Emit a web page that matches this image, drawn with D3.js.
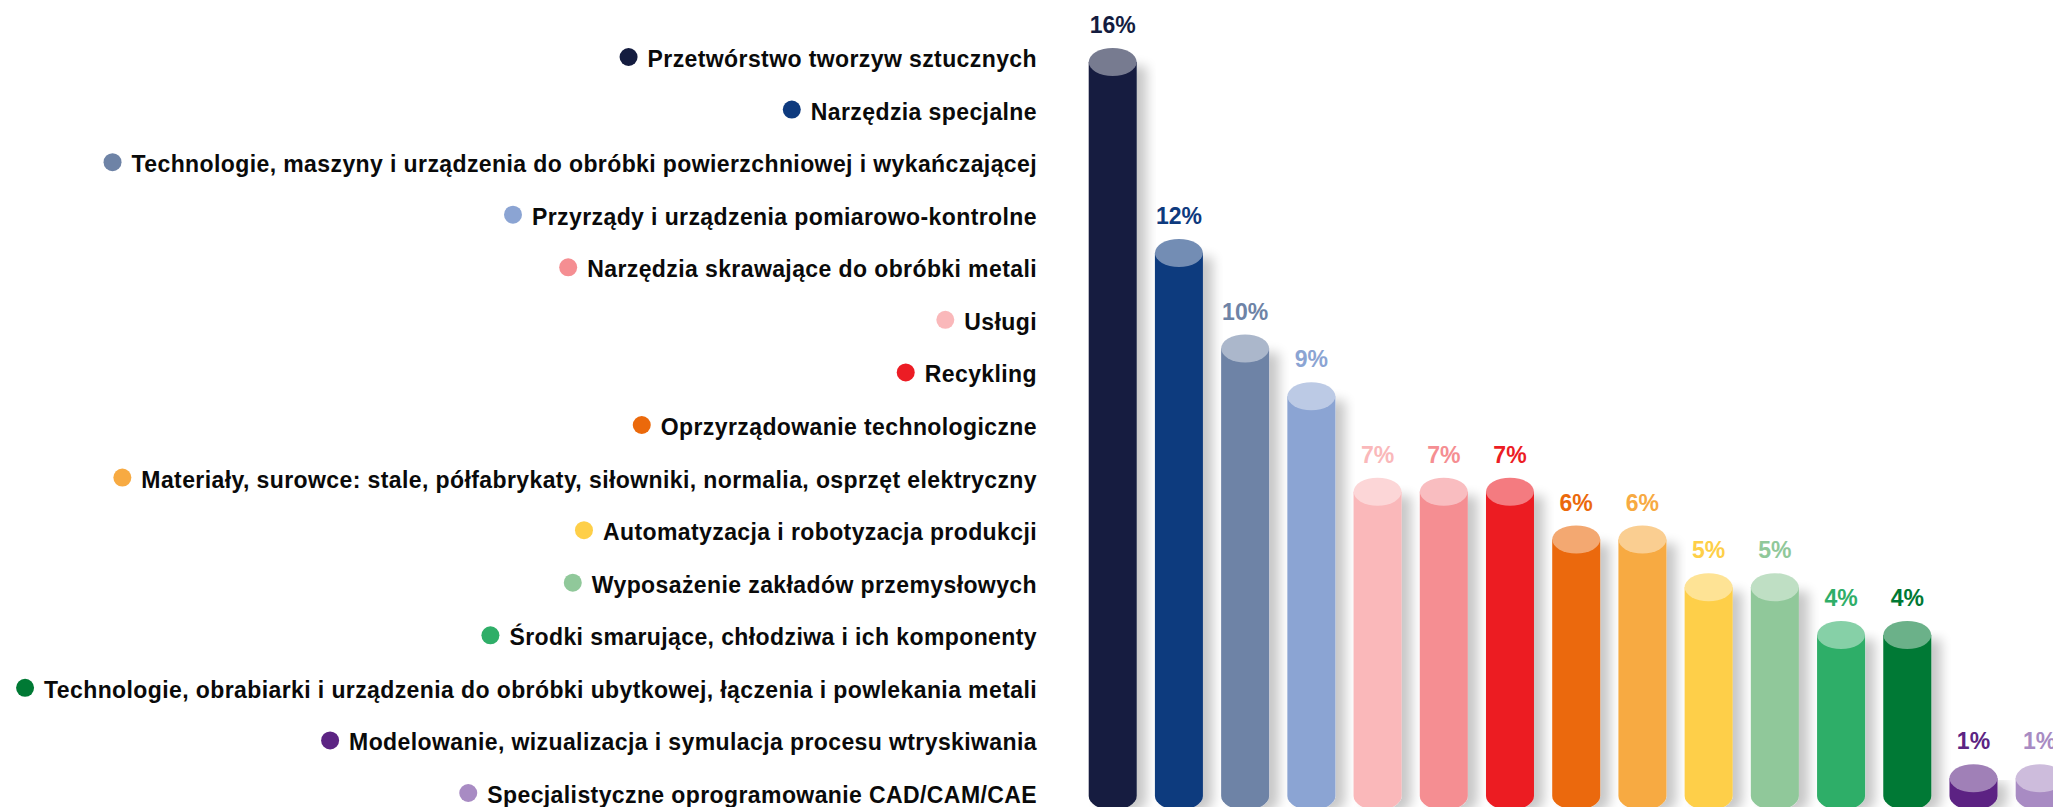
<!DOCTYPE html>
<html>
<head>
<meta charset="utf-8">
<script src="https://cdn.jsdelivr.net/npm/d3@7"></script>
<style>
  html, body { margin: 0; padding: 0; background: #ffffff; overflow: hidden; }
  svg { display: block; }
  text { font-family: "Liberation Sans", Arial, Helvetica, sans-serif; font-weight: bold; }
</style>
</head>
<body>
<svg id="chart" width="2053" height="807"></svg>
<script>
// ---- data (legend order) ----
const categories = [
  "Przetwórstwo tworzyw sztucznych",
  "Narzędzia specjalne",
  "Technologie, maszyny i urządzenia do obróbki powierzchniowej i wykańczającej",
  "Przyrządy i urządzenia pomiarowo-kontrolne",
  "Narzędzia skrawające do obróbki metali",
  "Usługi",
  "Recykling",
  "Oprzyrządowanie technologiczne",
  "Materiały, surowce: stale, półfabrykaty, siłowniki, normalia, osprzęt elektryczny",
  "Automatyzacja i robotyzacja produkcji",
  "Wyposażenie zakładów przemysłowych",
  "Środki smarujące, chłodziwa i ich komponenty",
  "Technologie, obrabiarki i urządzenia do obróbki ubytkowej, łączenia i powlekania metali",
  "Modelowanie, wizualizacja i symulacja procesu wtryskiwania",
  "Specjalistyczne oprogramowanie CAD/CAM/CAE"
];
const values = [16, 12, 10, 9, 7, 7, 7, 6, 6, 5, 5, 4, 4, 1, 1];
const colors = [
  "#141c3f", "#0e3a7e", "#6e83a6", "#8ba4d3", "#f58e92", "#fab8ba", "#ec1c24",
  "#eb690b", "#f7aa42", "#fecf48", "#90c89a", "#2fae68", "#007934", "#5c2483", "#a88bc3"
];
// order in which the bars are drawn, left to right (indices into categories)
const barOrder = [0, 1, 2, 3, 5, 4, 6, 7, 8, 9, 10, 11, 12, 13, 14];

const svg = d3.select("#chart");

const defs = svg.append("defs");
const f = defs.append("filter").attr("id", "shadow")
  .attr("x", "-20%").attr("y", "-5%").attr("width", "160%").attr("height", "120%");
f.append("feGaussianBlur").attr("in", "SourceAlpha").attr("stdDeviation", 6).attr("result", "b");
f.append("feOffset").attr("in", "b").attr("dx", 10).attr("dy", 4).attr("result", "o");
f.append("feComponentTransfer").attr("in", "o").attr("result", "s")
  .append("feFuncA").attr("type", "linear").attr("slope", 0.22);
const m = f.append("feMerge");
m.append("feMergeNode").attr("in", "s");
m.append("feMergeNode").attr("in", "SourceGraphic");

// ---- scales ----
const bars = barOrder.map(i => ({ name: categories[i], value: values[i], color: colors[i] }));
const x = d3.scaleBand().domain(bars.map(d => d.name))
  .range([1088.7, 2063.7]).paddingInner(0.275).paddingOuter(0);
const y = d3.scaleLinear().domain([0, 16]).range([826, 62]);
const rx = x.bandwidth() / 2, ry = 14, bottomC = 796;
const capColor = c => d3.interpolateRgb(c, "#ffffff")(0.42);

const g = svg.append("g");
const bar = g.selectAll("g.bar").data(bars).join("g").attr("class", "bar");

bar.append("path")
  .attr("filter", "url(#shadow)")
  .attr("fill", d => d.color)
  .attr("d", d => {
    const x0 = x(d.name), x1 = x0 + x.bandwidth(), yt = y(d.value);
    return `M${x0},${yt} L${x0},${bottomC} A${rx},${ry} 0 0 0 ${x1},${bottomC} L${x1},${yt} Z`;
  });
bar.append("ellipse")
  .attr("cx", d => x(d.name) + rx)
  .attr("cy", d => y(d.value))
  .attr("rx", rx).attr("ry", ry)
  .attr("fill", d => capColor(d.color));
bar.append("text")
  .attr("x", d => x(d.name) + rx)
  .attr("y", d => y(d.value) - 29)
  .attr("text-anchor", "middle")
  .attr("font-size", 23)
  .attr("fill", d => d.color)
  .text(d => d.value + "%");

// ---- legend ----
const ly = d3.scalePoint().domain(categories).range([57, 793]);
const textEnd = 1037;
const leg = svg.append("g").selectAll("g").data(categories).join("g");
leg.append("text")
  .attr("x", textEnd)
  .attr("y", d => ly(d) + 10)
  .attr("text-anchor", "end")
  .attr("font-size", 23)
  .attr("letter-spacing", "0.4px")
  .attr("fill", "#0a0a0a")
  .text(d => d);
leg.each(function(d, i) {
  const len = d3.select(this).select("text").node().getComputedTextLength();
  d3.select(this).append("circle")
    .attr("cx", textEnd - len - 19)
    .attr("cy", ly(d))
    .attr("r", 9)
    .attr("fill", colors[i]);
});
</script>
</body>
</html>
